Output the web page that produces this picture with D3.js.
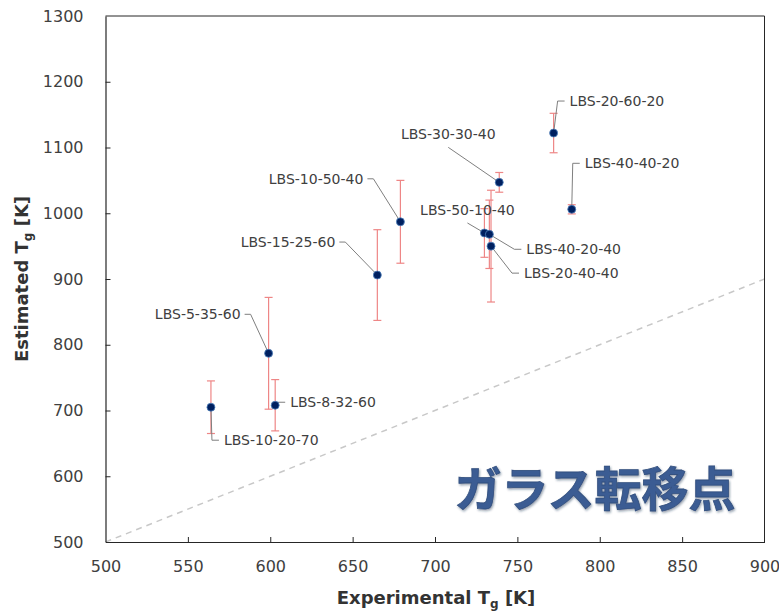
<!DOCTYPE html>
<html>
<head>
<meta charset="utf-8">
<script src="https://cdn.jsdelivr.net/npm/d3@7"></script>
<style>
  html, body { margin: 0; padding: 0; background: #fff; }
  svg { display: block; }
</style>
</head>
<body>
<svg id="chart" width="779" height="613"></svg>
<script>
// ---- data ----
const names = ["LBS-10-20-70","LBS-5-35-60","LBS-8-32-60","LBS-15-25-60","LBS-10-50-40",
               "LBS-30-30-40","LBS-50-10-40","LBS-40-20-40","LBS-20-40-40","LBS-20-60-20","LBS-40-40-20"];
const experimental = [564, 599, 603, 665, 679, 739, 730, 733, 734, 772, 783];
const estimated    = [705, 787, 708, 906, 987, 1047, 970, 968, 950, 1122, 1006];
const errors       = [40, 85, 39, 69, 63, 15, 37, 52, 85, 30, 7];
const xTicks = [500, 550, 600, 650, 700, 750, 800, 850, 900];
const yTicks = [500, 600, 700, 800, 900, 1000, 1100, 1200, 1300];
const refLine = [500, 900];
const xTitle = "Experimental T";
const yTitle = "Estimated T";
const subscript = "g";
const unit = " [K]";
const watermark = "ガラス転移点";

// label placement (pixel offsets from each point; side: r = text right of elbow, l = left, u = above)
const labelPlace = [
  {side:"r", dx: 13,  dy: 33},
  {side:"l", dx: -28, dy: -39},
  {side:"r", dx: 15,  dy: -3},
  {side:"l", dx: -42, dy: -33},
  {side:"l", dx: -37, dy: -43},
  {side:"u", dx: -51, dy: -48},
  {side:"u", dx: -17, dy: -23},
  {side:"r", dx: 37,  dy: 15},
  {side:"r", dx: 33,  dy: 27},
  {side:"r", dx: 16,  dy: -32},
  {side:"r", dx: 13,  dy: -46}
];

const data = names.map((n, i) => ({name: n, x: experimental[i], y: estimated[i], e: errors[i], lp: labelPlace[i]}));

// ---- layout ----
const svg = d3.select("#chart");
const margin = {left: 105.5, right: 779 - 764.5, top: 16, bottom: 613 - 542};
const W = 779, H = 613;
const x = d3.scaleLinear().domain([500, 900]).range([margin.left, W - margin.right]);
const y = d3.scaleLinear().domain([500, 1300]).range([H - margin.bottom, margin.top]);
const font = "'DejaVu Sans', Verdana, sans-serif";

// reference dashed line
svg.append("line")
  .attr("x1", x(refLine[0])).attr("y1", y(refLine[0]))
  .attr("x2", x(refLine[1])).attr("y2", y(refLine[1]))
  .attr("stroke", "#c8c8c8").attr("stroke-width", 1.5).attr("stroke-dasharray", "6,5");

// frame (top & right)
svg.append("path")
  .attr("d", `M${x(500)},${y(1300)}H${x(900)}V${y(500)}`)
  .attr("fill", "none").attr("stroke", "#262626").attr("stroke-width", 1);

// axes
const fmt = d3.format("d");
const xAxis = svg.append("g").attr("transform", `translate(0,${y(500)})`)
  .call(d3.axisBottom(x).tickValues(xTicks).tickFormat(fmt).tickSizeInner(-5).tickSizeOuter(0).tickPadding(19));
const yAxis = svg.append("g").attr("transform", `translate(${x(500)},0)`)
  .call(d3.axisLeft(y).tickValues(yTicks).tickFormat(fmt).tickSizeInner(-5).tickSizeOuter(0).tickPadding(22));
[xAxis, yAxis].forEach(a => {
  a.select(".domain").attr("stroke", "#262626").attr("stroke-width", 1.2);
  a.selectAll(".tick line").attr("stroke", "#262626");
  a.selectAll(".tick text").attr("font-family", font).attr("font-size", 16).attr("fill", "#404040");
});
// hide ticks at the box corners
xAxis.selectAll(".tick").filter(d => d === 500 || d === 900).select("line").remove();
yAxis.selectAll(".tick").filter(d => d === 500 || d === 1300).select("line").remove();

// error bars
const eb = svg.append("g").attr("stroke", "#ee8686").attr("stroke-width", 1.2);
data.forEach(d => {
  const cx = x(d.x);
  eb.append("line").attr("x1", cx).attr("x2", cx).attr("y1", y(d.y - d.e)).attr("y2", y(d.y + d.e));
  [d.y - d.e, d.y + d.e].forEach(v => {
    eb.append("line").attr("x1", cx - 4).attr("x2", cx + 4).attr("y1", y(v)).attr("y2", y(v));
  });
});

// labels and leader lines
const lab = svg.append("g");
data.forEach(d => {
  const px = x(d.x), py = y(d.y);
  const tx = px + d.lp.dx, ty = py + d.lp.dy;
  const t = lab.append("text")
    .attr("x", tx).attr("y", ty).attr("dy", "0.36em")
    .attr("font-family", font).attr("font-size", 14).attr("fill", "#404040")
    .text(d.name);
  let pts;
  if (d.lp.side === "r") {
    t.attr("text-anchor", "start");
    pts = [[px, py], [tx - 12, ty], [tx - 5, ty]];
  } else if (d.lp.side === "l") {
    t.attr("text-anchor", "end");
    pts = [[px, py], [tx + 10, ty], [tx + 4, ty]];
  } else {
    t.attr("text-anchor", "middle");
    pts = [[px, py], [tx, ty + 13]];
  }
  lab.append("path").attr("d", d3.line()(pts))
    .attr("fill", "none").attr("stroke", "#7f7f7f").attr("stroke-width", 1);
});

// points
svg.append("g").selectAll("circle").data(data).join("circle")
  .attr("cx", d => x(d.x)).attr("cy", d => y(d.y)).attr("r", 4)
  .attr("fill", "#002060").attr("stroke", "#4f81bd").attr("stroke-width", 0.8);

// axis titles
const xt = svg.append("text")
  .attr("x", (x(500) + x(900)) / 2 + 1).attr("y", 604)
  .attr("text-anchor", "middle").attr("font-family", font).attr("font-weight", "bold")
  .attr("font-size", 18).attr("fill", "#333333");
xt.append("tspan").text(xTitle);
xt.append("tspan").attr("font-size", 12).attr("dy", 4).text(subscript);
xt.append("tspan").attr("dy", -4).text(unit);

const yt = svg.append("text")
  .attr("transform", `translate(28,${(y(500) + y(1300)) / 2}) rotate(-90)`)
  .attr("text-anchor", "middle").attr("font-family", font).attr("font-weight", "bold")
  .attr("font-size", 18).attr("fill", "#333333");
yt.append("tspan").text(yTitle);
yt.append("tspan").attr("font-size", 12).attr("dy", 4).text(subscript);
yt.append("tspan").attr("dy", -4).text(unit);

// watermark text
const defs = svg.append("defs");
const f = defs.append("filter").attr("id", "bevel").attr("x", "-5%").attr("y", "-10%").attr("width", "110%").attr("height", "130%");
f.append("feDropShadow").attr("dx", 1).attr("dy", 1.5).attr("stdDeviation", 1).attr("flood-color", "#1a2a48").attr("flood-opacity", 0.45);
svg.append("text")
  .attr("x", x(900) - 29).attr("y", 506)
  .attr("text-anchor", "end")
  .attr("font-family", "'Noto Sans CJK JP', sans-serif").attr("font-weight", 700)
  .attr("font-size", 47).attr("fill", "#3b5b93")
  .attr("stroke", "#34517f").attr("stroke-width", 0.8)
  .attr("filter", "url(#bevel)")
  .text(watermark);
</script>
</body>
</html>
